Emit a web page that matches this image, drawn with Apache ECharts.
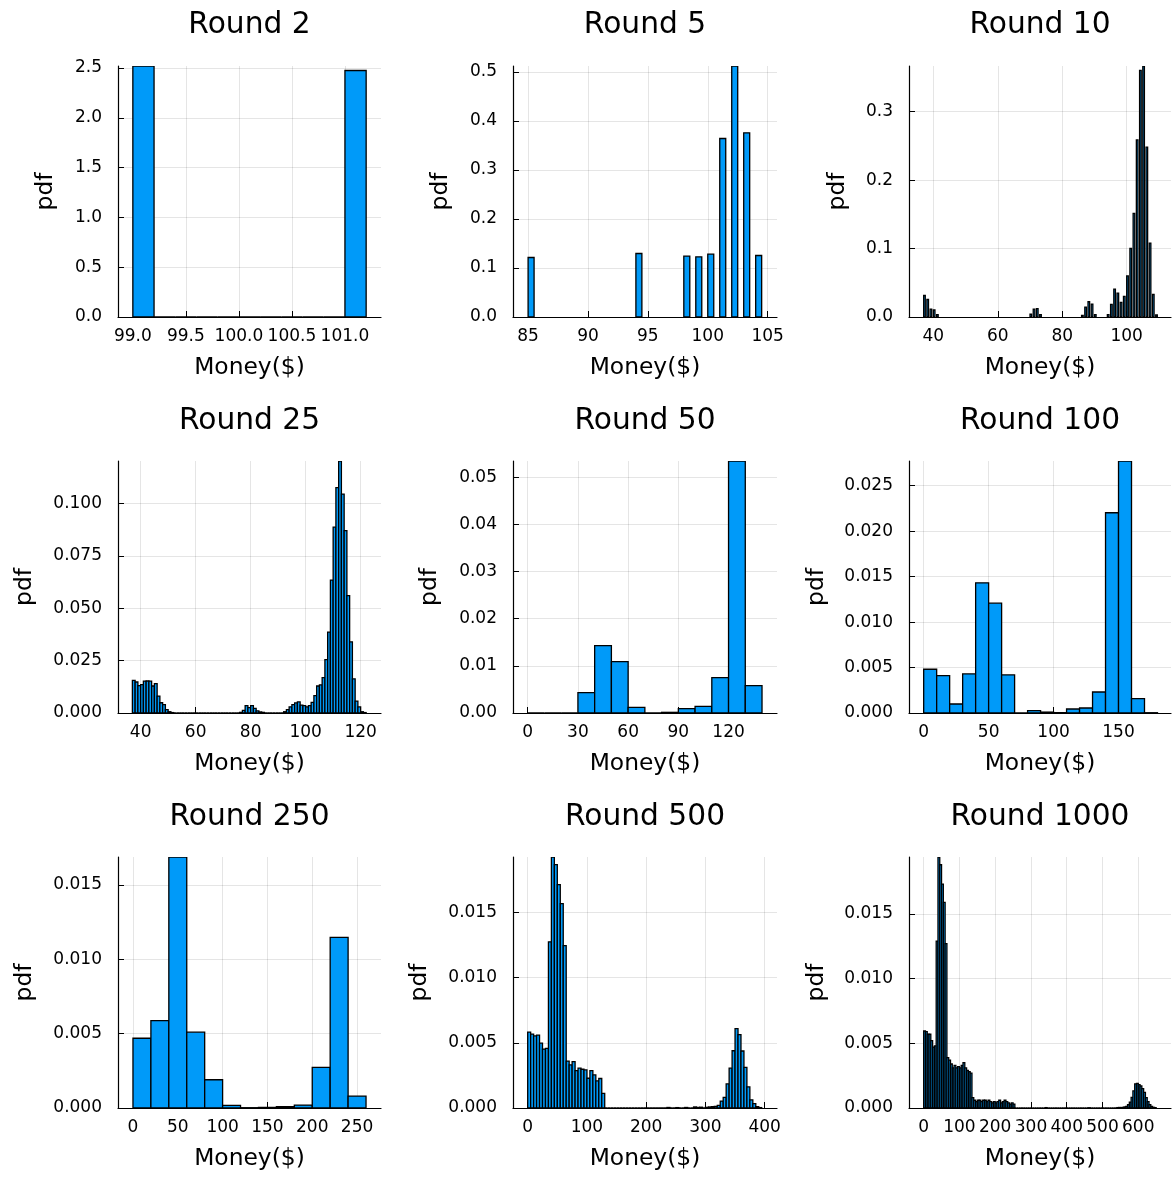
<!DOCTYPE html>
<html>
<head>
<meta charset="utf-8">
<script src="https://cdn.jsdelivr.net/npm/echarts@6/dist/echarts.min.js"></script>
<style>
html,body{margin:0;padding:0;background:#ffffff;}
#chart{width:1172px;height:1178px;}
</style>
</head>
<body>
<div id="chart"></div>
<script>
// ---------------- DATA ----------------
const roundTitles = ['Round 2','Round 5','Round 10','Round 25','Round 50','Round 100','Round 250','Round 500','Round 1000'];
const xAxisTitle = 'Money($)';
const yAxisTitle = 'pdf';

// Round 2 : regular bins (left edge start, width)
const r2_binStart = 99.0, r2_binWidth = 0.2;
const r2_pdf = [2.52,0,0,0,0,0,0,0,0,0,2.475];
const r2_xticks = [99.0,99.5,100.0,100.5,101.0];
const r2_yticks = [0,0.5,1.0,1.5,2.0,2.5];

// Round 5 : integer money values, bins of width 0.5
const r5_binWidth = 0.5;
const r5_money = [85,94,98,99,100,101,102,103,104];
const r5_pdf = [0.1214,0.1296,0.1242,0.1228,0.1282,0.3643,0.5122,0.3758,0.1255];
const r5_xticks = [85,90,95,100,105];
const r5_yticks = [0,0.1,0.2,0.3,0.4,0.5];

// Round 10 : integer money values, bins of width 0.5
const r10_binWidth = 0.5;
const r10_money = [37,38,39,40,41,70,71,72,73,86,87,88,89,90,94,95,96,97,98,99,100,101,102,103,104,105,106,107,108,109];
const r10_pdf = [0.0314,0.0256,0.0116,0.0102,0.0035,0.004,0.0116,0.0121,0.0034,0.0024,0.0145,0.0223,0.0189,0.0034,0.0034,0.0184,0.0406,0.0348,0.0213,0.03,0.06,0.1001,0.1514,0.2588,0.3604,0.3668,0.2482,0.1079,0.0329,0.0029];
const r10_xticks = [40,60,80,100];
const r10_yticks = [0,0.1,0.2,0.3];

// Round 25 : bins of width 1 from 37
const r25_binStart = 37, r25_binWidth = 1;
const r25_pdf = [0.0156,0.0148,0.0131,0.0136,0.0152,0.0153,0.0152,0.0129,0.014,0.0081,0.0049,0.004,0.0016,0.0006,0.0002,
  0,0,0,0,0,0,0,0,0,0,0,0,0,0,0,0,0,0,0,0,0,0,0,0,
  0.0003,0.0013,0.0035,0.0026,0.0035,0.0022,0.001,0.0005,0.0003,
  0,0,0,0,0,0,0,
  0.0006,0.0016,0.0029,0.004,0.0048,0.0053,0.0038,0.0035,0.0029,0.0035,0.0051,0.0083,0.0129,0.0134,0.0169,0.0255,0.0386,0.0635,0.0888,0.1077,0.1204,0.1046,0.0871,0.0561,0.034,0.0163,0.0057,0.0029,0.0006,0.0002];
const r25_xticks = [40,60,80,100,120];
const r25_yticks = [0,0.025,0.05,0.075,0.1];

// Round 50 : bins of width 10 from 0
const r50_binStart = 0, r50_binWidth = 10;
const r50_pdf = [0,0,0,0.00432,0.0143,0.0109,0.0012,0,0.00014,0.00092,0.00142,0.0075,0.05347,0.0058];
const r50_xticks = [0,30,60,90,120];
const r50_yticks = [0,0.01,0.02,0.03,0.04,0.05];

// Round 100 : bins of width 10 from 0
const r100_binStart = 0, r100_binWidth = 10;
const r100_pdf = [0.00481,0.00411,0.00099,0.0043,0.01432,0.01208,0.00419,0,0.00026,0.0001,0.00004,0.00044,0.00055,0.00231,0.02203,0.02772,0.00158,0.00003];
const r100_xticks = [0,50,100,150];
const r100_yticks = [0,0.005,0.01,0.015,0.02,0.025];

// Round 250 : bins of width 20 from 0
const r250_binStart = 0, r250_binWidth = 20;
const r250_pdf = [0.00469,0.00588,0.01688,0.0051,0.0019,0.00018,0.00002,0.00004,0.00009,0.0002,0.00273,0.01147,0.0008];
const r250_xticks = [0,50,100,150,200,250];
const r250_yticks = [0,0.005,0.01,0.015];

// Round 500 : bins of width 5 from 0
const r500_binStart = 0, r500_binWidth = 5;
const r500_pdf = [0.00581,0.00566,0.00553,0.00558,0.00497,0.00452,0.00457,0.01274,0.01924,0.01865,0.01713,0.01566,0.01244,0.0036,0.0033,0.00355,0.00287,0.00305,0.00297,0.00292,0.00228,0.00287,0.00254,0.00208,0.00226,0.00112,
  0,0,0,0,0,0,0,0,0,0,0,0,0,0,0,0,0,0,0,0,0,
  0.00004,0,0,0.00003,0,0,0.00004,0,0,0.00008,0.00004,0.00006,0,0.00005,0.00008,0.0001,0.00012,
  0.0002,0.00053,0.00081,0.00185,0.00305,0.00439,0.00609,0.00563,0.00437,0.00312,0.00162,0.00063,0.00033,0.0001,0.00003];
const r500_xticks = [0,100,200,300,400];
const r500_yticks = [0,0.005,0.01,0.015];

// Round 1000 : bins of width 5 from 0
const r1000_binStart = 0, r1000_binWidth = 5;
const r1000_pdf = [0.00595,0.0059,0.0057,0.0057,0.0052,0.0047,0.0048,0.0129,0.0194,0.0188,0.0173,0.0159,0.0127,
  0.0039,0.0037,0.0034,0.0031,0.0033,0.0031,0.0032,0.0031,0.0033,0.0035,0.0031,0.0029,0.0028,0.0027,
  0.0008,0.0006,0.0005,0.0006,0.0006,0.0005,0.0006,0.0006,0.0005,0.0006,0.0005,0.0004,0.0005,0.0004,0.0005,0.0006,0.0004,0.0005,0.0006,0.0005,0.0004,0.0003,0.0004,0.0003,
  0,0,0,0,0,0,0,0,0,0,0,0,0,0,0,0,0,
  0.00003,
  0,0,0,0,0,0,0,0,0,0,0,0,0,0,0,0,0,0,0,0,0,0,0,
  0.00002,
  0,0,0,0,0,0,0,0,0,0,0,0,0,0,0,
  0.00003,0.00004,0.00003,0.00005,0.00008,
  0.00013,0.00026,0.00046,0.00082,0.00133,0.00187,0.0019,0.0018,0.0017,0.0015,0.0012,0.0008,0.0005,0.00026,0.00013,0.00005,0.00003];
const r1000_xticks = [0,100,200,300,400,500,600];
const r1000_yticks = [0,0.005,0.01,0.015];

// ---------------- build bins ----------------
function binsFromStart(start, w, pdf) {
  return pdf.map((h, i) => [start + i * w, start + (i + 1) * w, h]);
}
function binsFromValues(vals, w, pdf) {
  return vals.map((v, i) => [v, v + w, pdf[i]]);
}

const panelBars = [
  binsFromStart(r2_binStart, r2_binWidth, r2_pdf),
  binsFromValues(r5_money, r5_binWidth, r5_pdf),
  binsFromValues(r10_money, r10_binWidth, r10_pdf),
  binsFromStart(r25_binStart, r25_binWidth, r25_pdf),
  binsFromStart(r50_binStart, r50_binWidth, r50_pdf),
  binsFromStart(r100_binStart, r100_binWidth, r100_pdf),
  binsFromStart(r250_binStart, r250_binWidth, r250_pdf),
  binsFromStart(r500_binStart, r500_binWidth, r500_pdf),
  binsFromStart(r1000_binStart, r1000_binWidth, r1000_pdf)
];
const panelXTicks = [r2_xticks,r5_xticks,r10_xticks,r25_xticks,r50_xticks,r100_xticks,r250_xticks,r500_xticks,r1000_xticks];
const panelYTicks = [r2_yticks,r5_yticks,r10_yticks,r25_yticks,r50_yticks,r100_yticks,r250_yticks,r500_yticks,r1000_yticks];

// ---------------- layout / style ----------------
const FONT = '"DejaVu Sans", "Liberation Sans", sans-serif';
const colLeft = [118, 513, 909];
const colWidth = [263, 264, 262];
const rowTop = [66, 461, 857];
const rowHeight = [251, 252, 251];
const titleY = [25.5, 421.5, 817.5];
const xRange = [[98.86,101.34],[83.74,105.78],[32.45,113.75],[31.77,127.4],[-8.79,148.95],[-11.3,190.4],[-16.7,276.7],[-24.8,420.8],[-41,691.5]];
const yMax = [2.52,0.5122,0.3668,0.1204,0.05347,0.02772,0.01688,0.01924,0.0194];
const xDec = [1,0,0,0,0,0,0,0,0];
const yDec = [1,1,1,3,2,3,3,3,3];
const yNameGap = [61,61,60,82,72,81,82,82,81];

const grids = [], xAxes = [], yAxes = [], series = [], graphics = [];
for (let i = 0; i < 9; i++) {
  const r = Math.floor(i / 3), c = i % 3;
  grids.push({left: colLeft[c], top: rowTop[r], width: colWidth[c], height: rowHeight[r], containLabel: false, outerBoundsMode: 'none'});
  xAxes.push({
    type: 'value', gridIndex: i, min: xRange[i][0], max: xRange[i][1],
    name: xAxisTitle, nameLocation: 'middle', nameGap: 39,
    nameTextStyle: {fontFamily: FONT, fontSize: 23.4, color: '#000'},
    axisLine: {show: true, onZero: false, lineStyle: {color: '#000', width: 1.2}},
    axisTick: {show: true, inside: true, length: 6, lineStyle: {color: '#000', width: 1}, customValues: panelXTicks[i]},
    axisLabel: {show: true, customValues: panelXTicks[i], formatter: (v) => Number(v).toFixed(xDec[i]),
      fontFamily: FONT, fontSize: 17, color: '#000', margin: 11},
    splitLine: {show: true, lineStyle: {color: 'rgba(0,0,0,0.1)', width: 1}}
  });
  yAxes.push({
    type: 'value', gridIndex: i, min: 0, max: yMax[i],
    name: yAxisTitle, nameLocation: 'middle', nameGap: yNameGap[i],
    nameTextStyle: {fontFamily: FONT, fontSize: 23.4, color: '#000'},
    axisLine: {show: true, onZero: false, lineStyle: {color: '#000', width: 1.2}},
    axisTick: {show: true, inside: true, length: 6, lineStyle: {color: '#000', width: 1}, customValues: panelYTicks[i]},
    axisLabel: {show: true, customValues: panelYTicks[i], formatter: (v) => Number(v).toFixed(yDec[i]),
      fontFamily: FONT, fontSize: 17, color: '#000', margin: 16},
    splitLine: {show: true, lineStyle: {color: 'rgba(0,0,0,0.1)', width: 1}}
  });
  series.push({
    type: 'custom', xAxisIndex: i, yAxisIndex: i, data: panelBars[i],
    encode: {x: [0, 1], y: 2}, silent: true, clip: true,
    renderItem: function (params, api) {
      const p0 = api.coord([api.value(0), api.value(2)]);
      const p1 = api.coord([api.value(1), 0]);
      return {
        type: 'rect',
        shape: {x: p0[0], y: p0[1], width: p1[0] - p0[0], height: p1[1] - p0[1]},
        style: {fill: '#009af9', stroke: '#000', lineWidth: 1.3}
      };
    }
  });
  graphics.push({
    type: 'text', x: colLeft[c] + colWidth[c] / 2, y: titleY[r], silent: true,
    style: {text: roundTitles[i], fontFamily: FONT, fontSize: 29.7, fill: '#000', align: 'center', verticalAlign: 'middle'}
  });
}

const chart = echarts.init(document.getElementById('chart'), null, {renderer: 'canvas'});
chart.setOption({
  animation: false,
  backgroundColor: '#ffffff',
  grid: grids, xAxis: xAxes, yAxis: yAxes, series: series, graphic: graphics
});
</script>
</body>
</html>
